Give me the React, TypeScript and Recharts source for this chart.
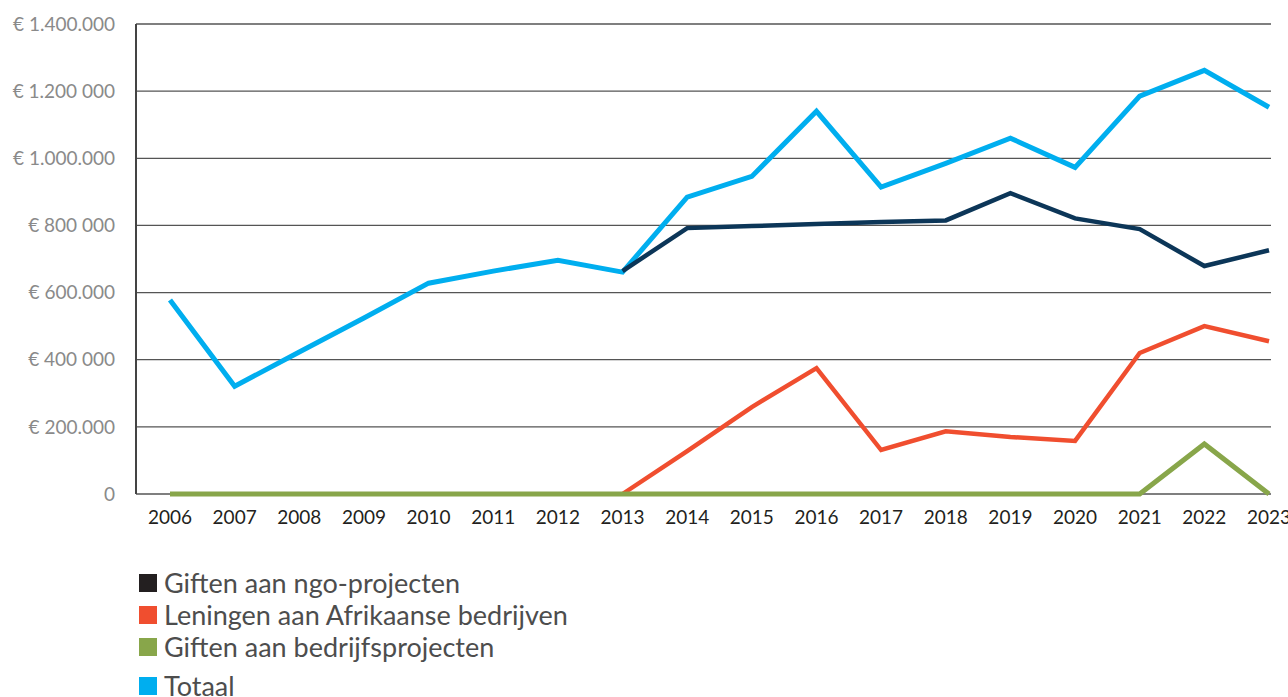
import { LineChart, Line, XAxis, YAxis, CartesianGrid } from 'recharts'

const jaren = ['2006', '2007', '2008', '2009', '2010', '2011', '2012', '2013', '2014',
  '2015', '2016', '2017', '2018', '2019', '2020', '2021', '2022', '2023']

// bedragen in euro
const totaal = [578000, 321000, 423000, 524000, 628000, 664000, 696000, 661000, 884000,
  946000, 1140000, 914000, 985000, 1060000, 973000, 1185000, 1262000, 1152000]
const giftenNgo = [null, null, null, null, null, null, null, 664000, 792000,
  798000, 804000, 810000, 815000, 896000, 821000, 789000, 679000, 726000]
const leningen = [null, null, null, null, null, null, null, 0, 128000,
  259000, 375000, 131000, 187000, 170000, 158000, 420000, 500000, 455000]
const giftenBedrijf = [0, 0, 0, 0, 0, 0, 0, 0, 0,
  0, 0, 0, 0, 0, 0, 0, 149000, 0]

const yTicks = [0, 200000, 400000, 600000, 800000, 1000000, 1200000, 1400000]
const yLabels = ['0', '€ 200.000', '€ 400 000', '€ 600.000', '€ 800 000', '€ 1.000.000', '€ 1.200 000', '€ 1.400.000']

const legenda = [
  { naam: 'Giften aan ngo-projecten', kleur: '#231f20' },
  { naam: 'Leningen aan Afrikaanse bedrijven', kleur: '#f04e2f' },
  { naam: 'Giften aan bedrijfsprojecten', kleur: '#88a64a' },
  { naam: 'Totaal', kleur: '#00aeef' },
]

const data = jaren.map((jaar, i) => ({
  jaar,
  totaal: totaal[i],
  ngo: giftenNgo[i],
  leningen: leningen[i],
  bedrijf: giftenBedrijf[i],
}))

const font = 'Lato, "Open Sans", sans-serif'

export default function App() {
  return (
    <div style={{ position: 'absolute', left: 0, top: 0, width: 1288, height: 697, background: '#fff', fontFamily: font, overflow: 'hidden' }}>
      <LineChart
        width={1288}
        height={540}
        data={data}
        margin={{ top: 24, right: 17, left: 0, bottom: 0 }}
      >
        <CartesianGrid vertical={false} stroke="#555" strokeWidth={1.3} />
        <XAxis
          dataKey="jaar"
          padding={{ left: 34, right: 2 }}
          axisLine={false}
          tickLine={false}
          tickMargin={11}
          height={46}
          interval={0}
          tick={{ fontSize: 19, fill: '#231f20', fontFamily: font }}
        />
        <YAxis
          domain={[0, 1400000]}
          ticks={yTicks}
          interval={0}
          width={136}
          tickSize={0}
          tickMargin={21}
          axisLine={{ stroke: '#444', strokeWidth: 2 }}
          tickLine={false}
          tickFormatter={(v) => yLabels[yTicks.indexOf(v)] ?? ''}
          tick={{ fontSize: 19, fill: '#8a8a8a', fontFamily: font }}
        />
        <YAxis
          yAxisId="rand"
          orientation="right"
          width={0}
          tick={false}
          tickLine={false}
          axisLine={{ stroke: '#8c8c8c', strokeWidth: 2 }}
        />
        <Line dataKey="totaal" stroke="#00aeef" strokeWidth={5} dot={false} isAnimationActive={false} strokeLinejoin="miter" />
        <Line dataKey="ngo" stroke="#0c3658" strokeWidth={4.5} dot={false} isAnimationActive={false} strokeLinejoin="miter" />
        <Line dataKey="leningen" stroke="#f04e2f" strokeWidth={4.5} dot={false} isAnimationActive={false} strokeLinejoin="miter" />
        <Line dataKey="bedrijf" stroke="#88a64a" strokeWidth={5} dot={false} isAnimationActive={false} strokeLinejoin="miter" />
      </LineChart>
      <div style={{ position: 'absolute', left: 139, top: 567 }}>
        {legenda.map((l, i) => (
          <div key={l.naam} style={{ display: 'flex', alignItems: 'center', height: 32, marginTop: i === 3 ? 7 : 0 }}>
            <span style={{ width: 18, height: 18, background: l.kleur, display: 'inline-block', marginRight: 7 }} />
            <span style={{ fontSize: 27, color: '#4d4d4d', lineHeight: '32px' }}>{l.naam}</span>
          </div>
        ))}
      </div>
    </div>
  )
}
